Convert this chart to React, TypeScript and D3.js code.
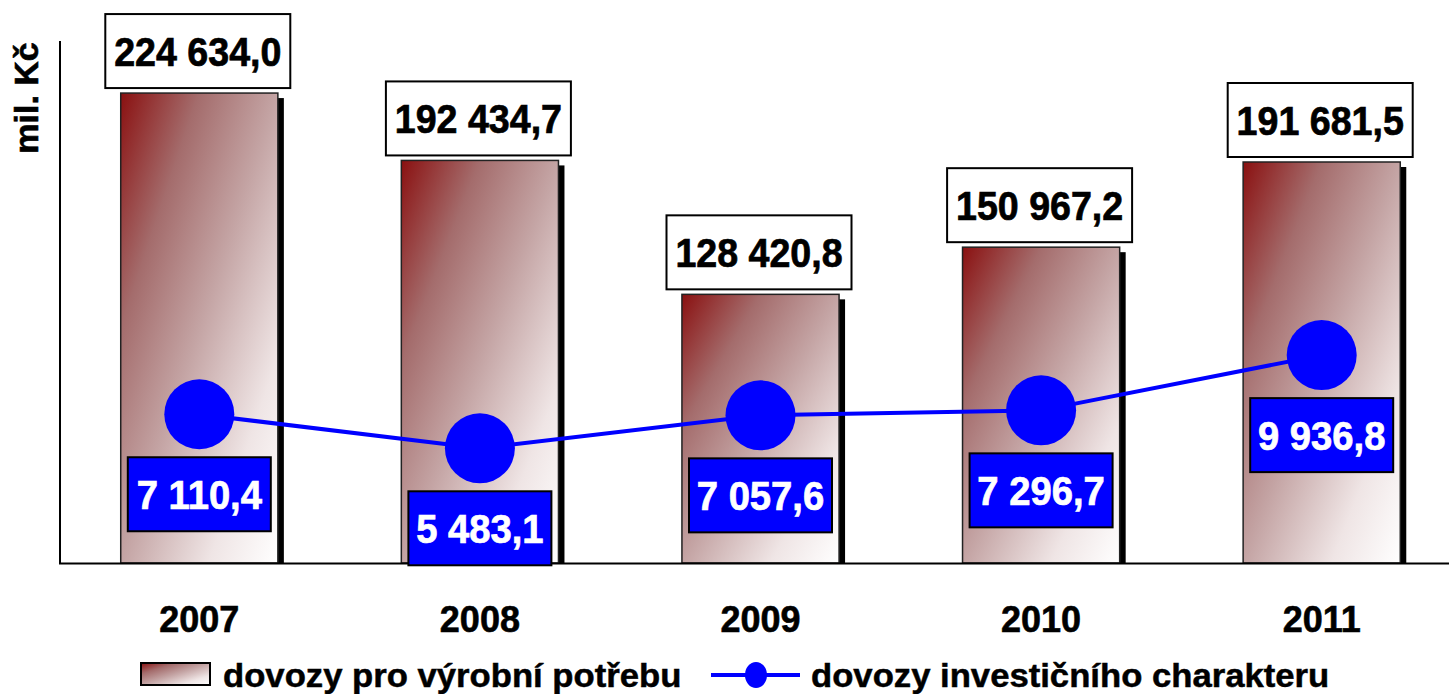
import React from 'react';
import * as d3 from 'd3';

const years = ['2007', '2008', '2009', '2010', '2011'];
const vyrobni = [224634.0, 192434.7, 128420.8, 150967.2, 191681.5];
const investicni = [7110.4, 5483.1, 7057.6, 7296.7, 9936.8];
const seriesNames = ['dovozy pro výrobní potřebu', 'dovozy investičního charakteru'];
const yLabel = 'mil. Kč';

const W = 1449;
const H = 694;
const FONT = '"Liberation Sans", Arial, sans-serif';

// czech number format: space as thousands sep, comma decimal
const fmt = (v: number) =>
  d3.format(',.1f')(v).replace(/,/g, ' ').replace('.', ',');

const App = () => {
  const x = d3.scaleBand<string>()
    .domain(years)
    .range([59, 1462])
    .paddingInner(0.44)
    .paddingOuter(0.22);
  const y = d3.scaleLinear().domain([0, 250000]).range([563, 40]);
  const y2 = d3.scaleLinear().domain([0, 25000]).range([563, 40]);

  const cx = (d: string) => (x(d) as number) + x.bandwidth() / 2;

  const line = d3.line<number>()
    .x((_, i) => cx(years[i]))
    .y(v => y2(v));

  const bw = x.bandwidth();

  return (
    <svg width={W} height={H} style={{ display: 'block', position: 'absolute', left: 0, top: 0 }} fontFamily={FONT}>
      <defs>
        <linearGradient id="barGrad" x1="0" y1="0" x2="1" y2="1">
          <stop offset="0" stopColor="#8a1010" />
          <stop offset="0.25" stopColor="#a46c6c" />
          <stop offset="0.5" stopColor="#c4a4a4" />
          <stop offset="0.78" stopColor="#efe5e5" />
          <stop offset="1" stopColor="#ffffff" />
        </linearGradient>
      </defs>
      <rect width={W} height={H} fill="#fff" />

      {/* y axis title */}
      <text
        transform={`translate(38,98) rotate(-90)`}
        textAnchor="middle"
        fontSize={34}
        fontWeight="bold"
        stroke="#000"
        strokeWidth={0.6}
      >{yLabel}</text>

      {/* bars */}
      {years.map((yr, i) => {
        const x0 = x(yr) as number;
        const top = y(vyrobni[i]);
        return (
          <g key={yr}>
            <rect x={x0 + 6} y={top + 5} width={bw} height={y(0) - top - 5} fill="#000" />
            <rect x={x0} y={top} width={bw} height={y(0) - top} fill="url(#barGrad)" stroke="#222" strokeWidth={1.5} />
          </g>
        );
      })}

      {/* axes */}
      <line x1={60} x2={60} y1={41} y2={564} stroke="#000" strokeWidth={2} />
      <line x1={59} x2={W} y1={563.5} y2={563.5} stroke="#000" strokeWidth={2} />

      {/* bar value labels */}
      {years.map((yr, i) => {
        const top = y(vyrobni[i]);
        const c = cx(yr) - 1.5;
        const bh = 74;
        const by = top - 5 - bh;
        return (
          <g key={'l' + yr}>
            <rect x={c - 92.5} y={by} width={185} height={bh} fill="#fff" stroke="#000" strokeWidth={2} />
            <text
              transform={`translate(${c},${by + bh / 2 + 14.5}) scale(0.94,1)`}
              textAnchor="middle"
              fontSize={40}
              fontWeight="bold"
              stroke="#000"
              strokeWidth={0.7}
            >{fmt(vyrobni[i])}</text>
          </g>
        );
      })}

      {/* line series */}
      <path d={line(investicni) as string} fill="none" stroke="#0000ff" strokeWidth={4} />
      {years.map((yr, i) => (
        <circle key={'c' + yr} cx={cx(yr)} cy={y2(investicni[i])} r={35} fill="#0000ff" />
      ))}
      {years.map((yr, i) => {
        const c = cx(yr);
        const by = y2(investicni[i]) + 43;
        const bh = 74;
        return (
          <g key={'b' + yr}>
            <rect x={c - 71.5} y={by} width={143} height={bh} fill="#0000ff" stroke="#000" strokeWidth={2} />
            <text
              transform={`translate(${c},${by + bh / 2 + 14.5}) scale(0.955,1)`}
              textAnchor="middle"
              fontSize={40}
              fontWeight="bold"
              fill="#fff"
              stroke="#fff"
              strokeWidth={0.7}
            >{fmt(investicni[i])}</text>
          </g>
        );
      })}

      {/* x tick labels */}
      {years.map(yr => (
        <text key={'t' + yr} x={cx(yr)} y={632} textAnchor="middle" fontSize={36} fontWeight="bold"
          stroke="#000" strokeWidth={0.6}>{yr}</text>
      ))}

      {/* legend */}
      <g>
        <rect x={141} y={663} width={69} height={22} fill="url(#barGrad)" stroke="#000" strokeWidth={2} />
        <text transform="translate(223,687) scale(1.02,1)" fontSize={34} fontWeight="bold"
          stroke="#000" strokeWidth={0.5}>{seriesNames[0]}</text>
        <line x1={711} x2={800} y1={675} y2={675} stroke="#0000ff" strokeWidth={4} />
        <ellipse cx={756} cy={675} rx={11} ry={13} fill="#0000ff" />
        <text transform="translate(811,687) scale(1.02,1)" fontSize={34} fontWeight="bold"
          stroke="#000" strokeWidth={0.5}>{seriesNames[1]}</text>
      </g>
    </svg>
  );
};

export default App;
